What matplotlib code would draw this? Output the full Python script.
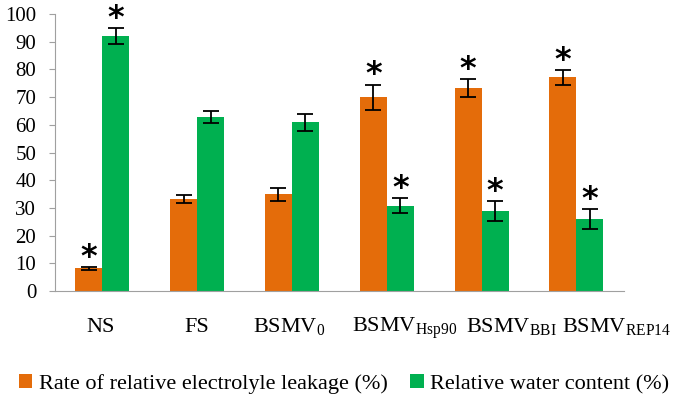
import matplotlib
matplotlib.use("Agg")
import matplotlib.pyplot as plt
import numpy as np

plt.rcParams['font.family'] = ['Liberation Serif', 'DejaVu Serif']
plt.rcParams['mathtext.fontset'] = 'custom'
plt.rcParams['mathtext.rm'] = 'Liberation Serif'

categories = ['NS', 'FS', r'BSMV$_{\mathrm{0}}$', r'BSMV$_{\mathrm{Hsp90}}$',
              r'BSMV$_{\mathrm{BBI}}$', r'BSMV$_{\mathrm{REP14}}$']
leakage = [8.2, 33.3, 35.0, 70.0, 73.2, 77.1]
leakage_err = [0.4, 1.5, 2.3, 4.5, 3.2, 2.7]
leakage_star = [True, False, False, True, True, True]
water = [92.0, 62.9, 61.0, 30.8, 28.9, 26.0]
water_err = [2.8, 2.1, 3.1, 2.7, 3.6, 3.7]
water_star = [True, False, False, True, True, True]

# horizontal nudge of each category label (points), as in the original figure
label_shift = [-1.5, 0, -2, 13, 21.5, 29]

orange = '#E46C0A'
green = '#00B050'

fig = plt.figure(figsize=(6.75, 4.01), dpi=100)
ax = fig.add_axes([0.0815, 0.274, 0.8425, 0.691])

x = np.arange(len(categories)) + 0.5
w = 0.285
ekw = dict(elinewidth=1.3, capthick=1.3, ecolor='black')
ax.bar(x - w / 2, leakage, w, color=orange, yerr=leakage_err, capsize=6,
       error_kw=ekw, label='Rate of relative electrolyle leakage (%)')
ax.bar(x + w / 2, water, w, color=green, yerr=water_err, capsize=6,
       error_kw=ekw, label='Relative water content (%)')

# significance stars
for xi, v, e, s in zip(x - w / 2, leakage, leakage_err, leakage_star):
    if s:
        ax.text(xi, v + e + 3.5, '*', ha='center', va='center', fontsize=23,
                fontweight='bold', family='DejaVu Sans')
for xi, v, e, s in zip(x + w / 2, water, water_err, water_star):
    if s:
        ax.text(xi, v + e + 3.5, '*', ha='center', va='center', fontsize=23,
                fontweight='bold', family='DejaVu Sans')

ax.set_xlim(0, 6)
ax.set_ylim(0, 100)
ax.set_yticks(range(0, 101, 10))
ax.set_xticks(x)
ax.set_xticklabels([])
# category labels drawn as annotations so they can be nudged sideways
for xi, lab, dx in zip(x, categories, label_shift):
    ax.annotate(lab, xy=(xi, 0), xycoords=('data', 'axes fraction'),
                xytext=(dx, -29.5), textcoords='offset points',
                ha='center', va='baseline', fontsize=16)
ax.tick_params(axis='y', labelsize=15, length=4.5, color='#A0A0A0', pad=9)
ax.tick_params(axis='x', length=0)
for sp in ['top', 'right']:
    ax.spines[sp].set_visible(False)
for sp in ['left', 'bottom']:
    ax.spines[sp].set_color('#A0A0A0')

fig.legend(loc='center', bbox_to_anchor=(0.51, 0.042), ncol=2, frameon=False,
           fontsize=16, handlelength=0.6, handleheight=0.6, handletextpad=0.3,
           columnspacing=1.0)

fig.savefig('out.png', dpi=100)
